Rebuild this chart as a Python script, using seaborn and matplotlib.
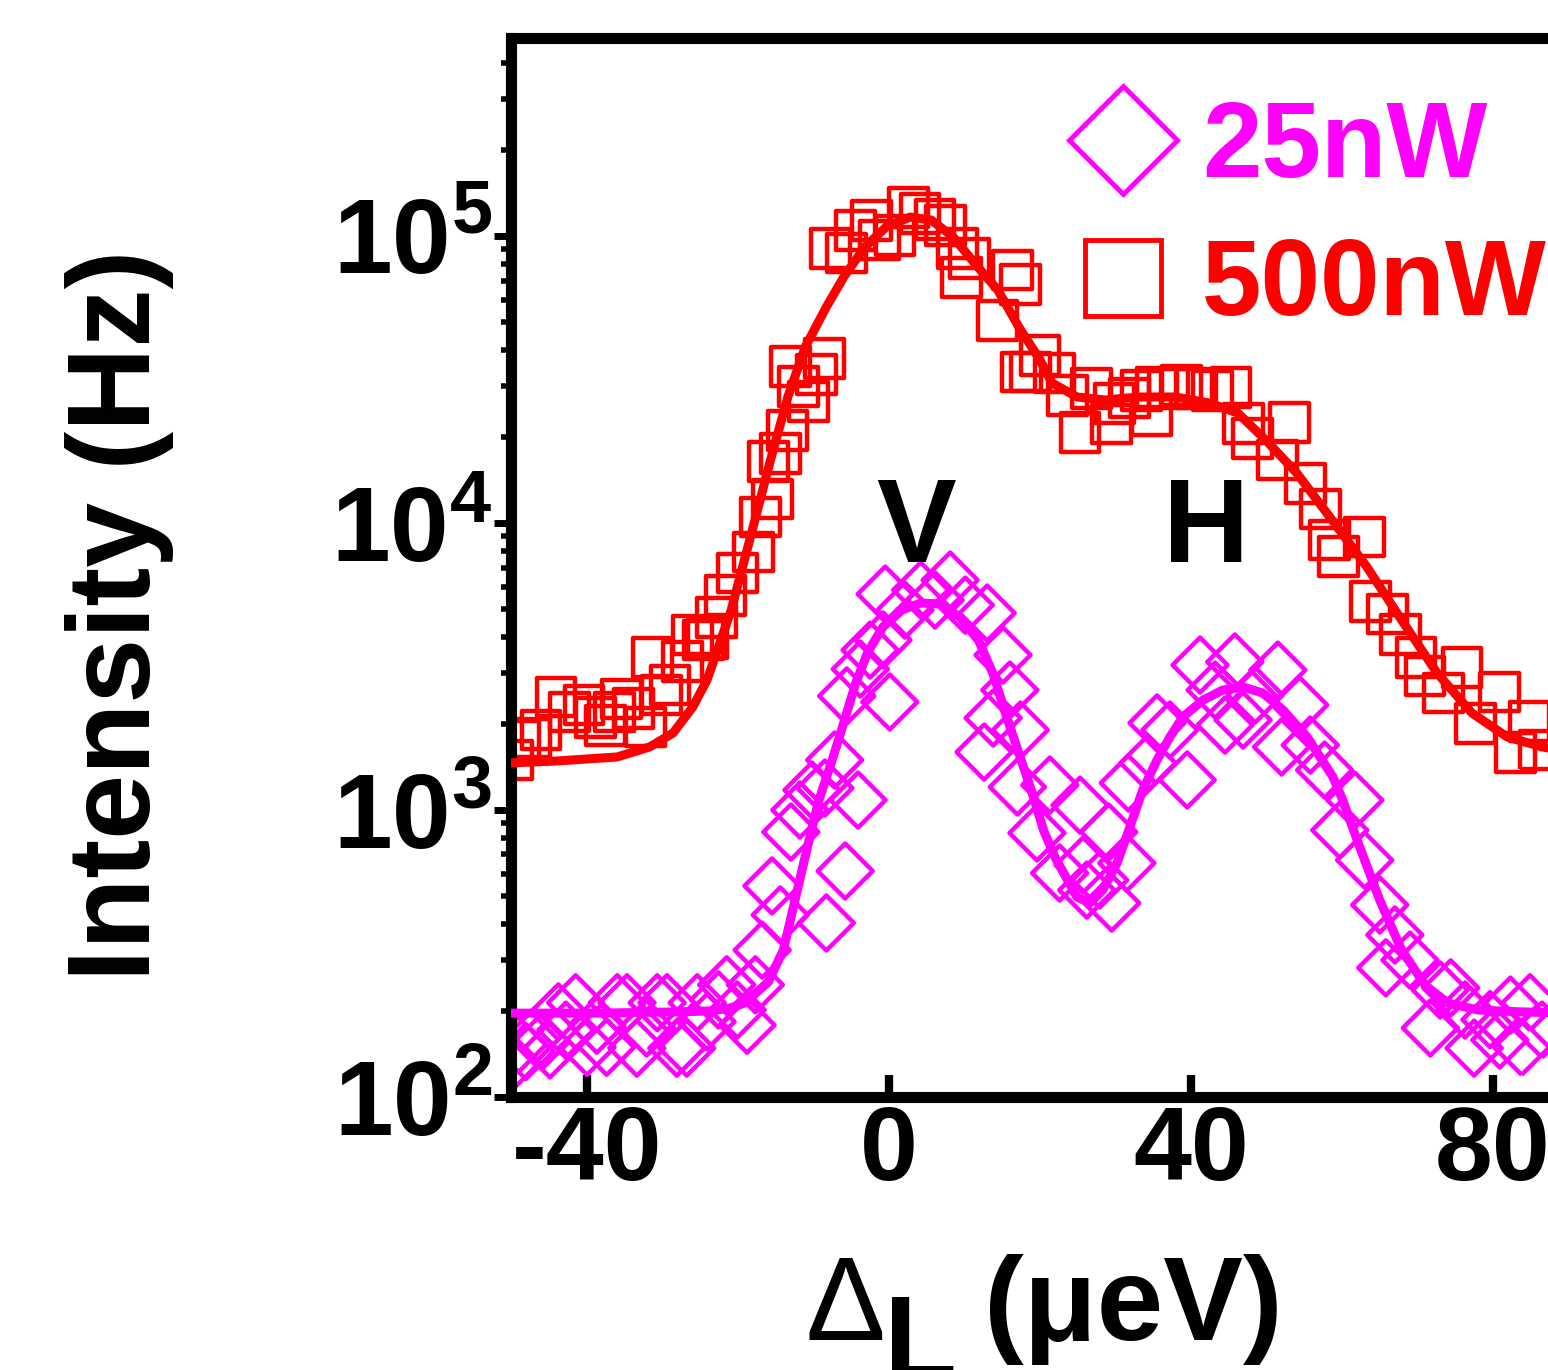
import numpy as np
import pandas as pd
import matplotlib
matplotlib.use("Agg")
import matplotlib.pyplot as plt
import seaborn as sns
from matplotlib.lines import Line2D
from matplotlib.ticker import LogLocator, NullFormatter, NullLocator

# ---------------- data ----------------
x_500 = [-49.8, -48.9, -47.5, -46.1, -44.1, -42.3, -40.4, -38.9, -37.6, -36.4,
         -35.4, -33.8, -32.2, -31.3, -30.1, -29.0, -27.3, -26.0, -24.6, -24.0,
         -22.8, -21.6, -20.1, -18.0, -17.0, -16.0, -15.4, -14.4, -13.5, -13.1,
         -12.0, -10.7, -9.6, -8.5, -7.8,
         -5.6, -4.4, -2.3, -1.2, 0.8, 2.6, 4.1, 6.1, 7.5, 9.1,
         9.6, 10.7, 14.4, 16.3, 17.4, 17.6, 18.7, 20.0, 21.9, 23.7,
         25.3, 26.8, 29.5, 29.9, 31.9, 33.5, 34.8, 35.4, 37.0, 38.8,
         40.7, 42.8, 45.3, 46.9, 48.1, 51.4, 53.1, 55.2, 57.1, 58.3,
         59.5, 63.0, 63.8, 66.0, 67.8, 69.8, 71.0, 73.4, 75.9, 77.7,
         80.9, 83.0, 84.8, 86.2]
y_500 = [1494, 1754, 1783, 1901, 2477, 2195, 2322, 2095, 1964, 2195,
         2437, 2266, 1947, 3388, 2517, 2728, 3282, 4074, 3911, 3972,
         4700, 5610, 6700, 7925, 10500, 16440, 12130, 17500, 20940, 35240,
         30000, 26600, 33000, 37570, 90800,
         87300, 104900, 113700, 96900, 100700, 126200, 120200, 114600, 109200, 90800,
         71600, 83800, 50900, 76200, 68000, 33600, 33600, 38460, 33340, 27920,
         20750, 29510, 22130, 26180, 27270, 29050, 23630, 29770, 29510, 30240,
         29510, 29050, 29770, 22300, 19770, 16580, 22480, 13770, 11190, 8730,
         7620, 8940, 5310, 4820, 4100, 3388, 2930, 2557, 3147, 2009,
         2577, 1581, 2028, 1618]

x_500_fit = [-50.2, -44.0, -36.0, -31.7, -28.6, -26.0, -24.1, -22.4, -20.9, -18.1,
             -15.8, -13.4, -11.1, -8.3, -6.0, -3.2, -0.4, 2.8, 5.6, 8.5,
             11.3, 14.4, 17.2, 20.0, 21.6, 24.9, 28.6, 33.2, 37.9, 42.5,
             46.2, 49.9, 54.0, 58.7, 63.3, 67.9, 72.6, 77.2, 81.9, 86.5, 90.0]
y_500_fit = [1459, 1482, 1531, 1659, 1855, 2284, 2839, 3819, 4977, 9460,
             16190, 27500, 41040, 56600, 71980, 91560, 107500, 116500, 113700, 99300,
             80600, 64900, 48200, 37000, 30760, 27500, 26840, 27500, 27500, 26180,
             24170, 19450, 14940, 10230, 7030, 4590, 3000, 2178, 1796, 1659, 1600]

x_25 = [-49.9, -49.1, -48.1, -47.0, -46.0, -44.9, -43.8, -42.8, -41.5, -40.0,
        -38.7, -37.4, -36.0, -34.7, -33.4, -32.1, -30.7, -29.4, -28.1, -26.8,
        -25.4, -24.1, -22.6, -21.5, -20.1, -18.8, -17.7, -16.8, -15.5, -14.4,
        -13.0, -11.8, -10.2, -8.5, -8.3, -7.2, -5.8, -5.6, -4.1, -3.8,
        -2.5, -0.8, -0.5, 0.1, 2.1, 4.2, 6.1, 8.1, 10.1, 12.6,
        13.0, 13.8, 15.1, 16.0, 17.0, 17.4, 19.6, 21.3, 22.6, 25.3,
        25.7, 26.2, 27.9, 29.1, 29.5, 31.5, 31.7, 34.3, 35.5, 37.2,
        39.5, 41.2, 43.2, 44.5, 45.8, 46.9, 48.5, 51.5, 52.0, 54.4,
        55.8, 57.7, 59.7, 61.7, 63.0, 65.0, 65.8, 67.0, 69.0, 71.7,
        73.0, 74.4, 76.3, 77.5, 79.6, 80.9, 82.3, 83.8, 84.9, 86.5]
y_25 = [132, 152, 144, 163, 156, 146, 198, 171, 213, 149,
        178, 149, 213, 213, 148, 174, 213, 213, 148, 148,
        213, 183, 218, 246, 201, 178, 246, 325, 544, 431,
        838, 1000, 1174, 1193, 404, 1494, 613, 2497, 1083, 3098,
        3609, 3911, 5656, 2379, 4974, 5845, 5393, 6328, 5177, 1592,
        4855, 2092, 3468, 2618, 1203, 1900, 832, 1222, 603, 1040,
        643, 526, 570, 838, 474, 653, 1242, 1458, 2011, 1900,
        1273, 3201, 2618, 1977, 3280, 2059, 2517, 3073, 1658, 2323,
        1684, 1378, 851, 1083, 669, 467, 282, 367, 300, 174,
        236, 240, 201, 148, 186, 158, 209, 149, 213, 171]

x_25_fit = [-50.2, -38.3, -27.7, -23.7, -21.1, -19.1, -16.0, -14.0, -13.0, -11.4,
            -9.4, -7.4, -5.8, -4.4, -2.8, -0.8, 1.7, 4.2, 6.8, 9.4,
            11.9, 13.9, 15.5, 17.5, 19.1, 20.5, 22.1, 24.9, 26.6, 28.3,
            30.2, 31.9, 33.6, 35.5, 37.2, 38.9, 41.6, 44.2, 46.9, 49.5,
            52.2, 55.4, 58.8, 60.1, 62.0, 65.0, 67.9, 71.0, 74.0, 78.0,
            83.6, 90.0]
y_25_fit = [196, 196, 198, 199.5, 204, 212.6, 251.6, 325, 420.6, 638,
            1058, 1530, 2094, 2773, 3556, 4347, 4977, 5264, 5223, 4700,
            3881, 2930, 2143, 1494, 1119, 845, 675, 497.6, 474, 526,
            653, 872, 1174, 1494, 1795, 2109, 2416, 2618, 2683, 2557,
            2230, 1795, 1303, 1083, 786, 485, 325, 245.5, 212.6, 201,
            198, 196]

x_ticks = [-40, 0, 40, 80]
x_tick_labels = ["-40", "0", "40", "80"]
y_ticks = [1e2, 1e3, 1e4, 1e5]
y_tick_labels = [r"$\mathbf{10^{2}}$", r"$\mathbf{10^{3}}$",
                 r"$\mathbf{10^{4}}$", r"$\mathbf{10^{5}}$"]
legend_labels = ["25nW", "500nW"]
peak_labels = ["V", "H"]
peak_x = [3.6, 42.0]
peak_y = [7300, 7300]

# ---------------- style ----------------
sns.set_theme(style="ticks")
plt.rcParams["font.family"] = ["Liberation Sans", "DejaVu Sans"]
plt.rcParams["font.weight"] = "bold"
plt.rcParams["mathtext.fontset"] = "custom"
plt.rcParams["mathtext.rm"] = "Liberation Sans"
plt.rcParams["mathtext.bf"] = "Liberation Sans:bold"
plt.rcParams["mathtext.it"] = "Liberation Sans:italic"
plt.rcParams["axes.edgecolor"] = "black"
plt.rcParams["xtick.color"] = "black"
plt.rcParams["ytick.color"] = "black"
plt.rcParams["text.color"] = "black"

RED = "#FF0000"
MAG = "#FF00FF"

fig = plt.figure(figsize=(15.48, 13.70), dpi=100)
W, H = 1548.0, 1370.0
ax = fig.add_axes([511.5 / W, 273 / H, 1057 / W, 1059 / H])
ax.set_yscale("log")

df500 = pd.DataFrame({"x": x_500, "y": y_500})
df25 = pd.DataFrame({"x": x_25, "y": y_25})
msz = 28

sns.scatterplot(data=df500, x="x", y="y", marker="s", s=msz ** 2,
                color=RED, facecolor="none", edgecolor=RED, linewidth=3.2,
                ax=ax, zorder=2, legend=False)
sns.scatterplot(data=df25, x="x", y="y", marker="D", s=msz ** 2,
                color=MAG, facecolor="none", edgecolor=MAG, linewidth=3.2,
                ax=ax, zorder=2, legend=False)
sns.lineplot(x=x_500_fit, y=y_500_fit, color=RED, lw=6.5, ax=ax, zorder=3,
             estimator=None, sort=False)
sns.lineplot(x=x_25_fit, y=y_25_fit, color=MAG, lw=6.5, ax=ax, zorder=3,
             estimator=None, sort=False)

ax.set_xlim(-50, 90)
ax.set_ylim(100, 4.9e5)
ax.set_xticks(x_ticks, x_tick_labels)
ax.set_yticks(y_ticks, y_tick_labels)
ax.xaxis.set_minor_locator(NullLocator())
ax.yaxis.set_minor_locator(LogLocator(base=10, subs=np.arange(2, 10), numticks=30))
ax.yaxis.set_minor_formatter(NullFormatter())
ax.tick_params(axis="x", which="major", direction="in", length=16, width=6,
               labelsize=75, pad=6, top=False)
ax.tick_params(axis="y", which="major", direction="out", length=12, width=5,
               labelsize=76, pad=2, right=False)
ax.tick_params(axis="y", which="minor", direction="out", length=7, width=4,
               right=False)
for sp in ax.spines.values():
    sp.set_linewidth(8)
    sp.set_color("black")
ax.set_xlabel("")
ax.set_ylabel("")

for lab, px, py in zip(peak_labels, peak_x, peak_y):
    ax.text(px, py, lab, ha="center", va="baseline", fontsize=86,
            fontweight="bold", color="black")

# axis titles
fig.text(120 / W, 1 - 615 / H, "Intensity (Hz)", rotation=90, ha="center",
         va="center", fontsize=84, fontweight="bold")
fig.text(806 / W, 1 - 1340 / H, "\u0394", ha="left", va="baseline",
         fontsize=86, fontweight="normal")
fig.text(884 / W, 1 - 1379 / H, "L", ha="left", va="baseline",
         fontsize=86, fontweight="bold")
fig.text(984 / W, 1 - 1340 / H, "(\u03bceV)", ha="left", va="baseline",
         fontsize=86, fontweight="bold")

handles = [
    Line2D([], [], ls="none", marker="D", markersize=msz * 1.95,
           markerfacecolor="none", markeredgecolor=MAG, markeredgewidth=3.5),
    Line2D([], [], ls="none", marker="s", markersize=msz * 1.95,
           markerfacecolor="none", markeredgecolor=RED, markeredgewidth=3.5),
]
ax.legend(handles, legend_labels, loc="upper left",
          bbox_to_anchor=(1080 / W, 1 - 99 / H), bbox_transform=fig.transFigure,
          frameon=False, prop={"size": 77, "weight": "bold"},
          labelcolor=[MAG, RED], handlelength=0.8, handletextpad=0.34,
          labelspacing=0.36, borderpad=0, borderaxespad=0, numpoints=1)

fig.savefig("out.png", dpi=100)
